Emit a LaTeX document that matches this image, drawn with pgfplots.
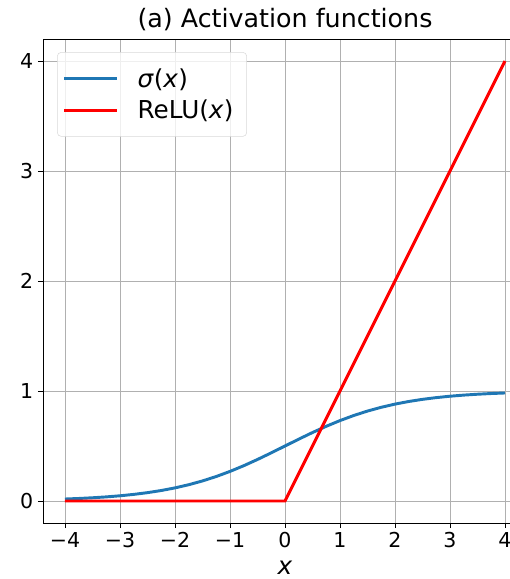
\documentclass[border=0pt]{standalone}
\usepackage{fontspec}
\setmainfont{DejaVu Sans}
\usepackage{pgfplots}
\pgfplotsset{compat=1.18}
\definecolor{mplblue}{HTML}{1F77B4}
\newcommand\fs{\fontsize{15.4pt}{18pt}\selectfont}
\newcommand\fl{\fontsize{18.5pt}{22pt}\selectfont}
\newcommand\ft{\fontsize{19pt}{23pt}\selectfont}
\begin{document}
\begin{tikzpicture}
\begin{axis}[
  scale only axis,
  width=363pt, height=363pt,
  xmin=-4.4, xmax=4.4, ymin=-0.2, ymax=4.2,
  xtick={-4,-3,-2,-1,0,1,2,3,4},
  xticklabels={−4,−3,−2,−1,0,1,2,3,4},
  ytick={0,1,2,3,4},
  yticklabels={0,1,2,3,4},
  tick align=outside,
  major tick length=3.75pt,
  tick style={black, line width=0.6pt},
  axis line style={line width=0.6pt},
  xtick pos=bottom, ytick pos=left,
  grid=major,
  grid style={color=black!31, line width=0.6pt},
  tick label style={font=\fs},
  xlabel={\textit{x}},
  xlabel style={font=\fl, at={(axis description cs:0.5,0)}, anchor=base, yshift=-38.5pt, inner sep=0pt},
  title={(a) Activation functions},
  title style={font=\ft, at={(axis description cs:0.5,1)}, anchor=base, yshift=2.25pt},
  legend cell align=left,
  legend style={at={(0.029,0.973)}, anchor=north west, font=\fl,
    draw=black!15, rounded corners=3pt, fill=white, fill opacity=0.8, text opacity=1,
    inner xsep=4pt, inner ysep=10pt, row sep=4pt, column sep=8pt,
    nodes={inner xsep=6pt}},
  legend image code/.code={\draw[#1] (0pt,0pt) -- (40pt,0pt);},
]
\addplot[mplblue, line width=2.2pt] coordinates {
(-4,0.01799) (-3.75,0.02298) (-3.5,0.02931) (-3.25,0.03732) (-3,0.04743)
(-2.75,0.06009) (-2.5,0.07586) (-2.25,0.09535) (-2,0.11920) (-1.75,0.14805)
(-1.5,0.18243) (-1.25,0.22270) (-1,0.26894) (-0.75,0.32082) (-0.5,0.37754)
(-0.25,0.43782) (0,0.5) (0.25,0.56218) (0.5,0.62246) (0.75,0.67918)
(1,0.73106) (1.25,0.77730) (1.5,0.81757) (1.75,0.85195) (2,0.88080)
(2.25,0.90465) (2.5,0.92414) (2.75,0.93991) (3,0.95257) (3.25,0.96268)
(3.5,0.97069) (3.75,0.97702) (4,0.98201)};
\addlegendentry{\textit{σ}(\textit{x})}
\addplot[red, line width=2.2pt] coordinates {(-4,0) (0,0) (4,4)};
\addlegendentry{ReLU(\textit{x})}
\end{axis}
\pgfresetboundingbox
\useasboundingbox (-32.25pt,-42pt) rectangle (350.25pt,392.25pt);
\end{tikzpicture}
\end{document}
